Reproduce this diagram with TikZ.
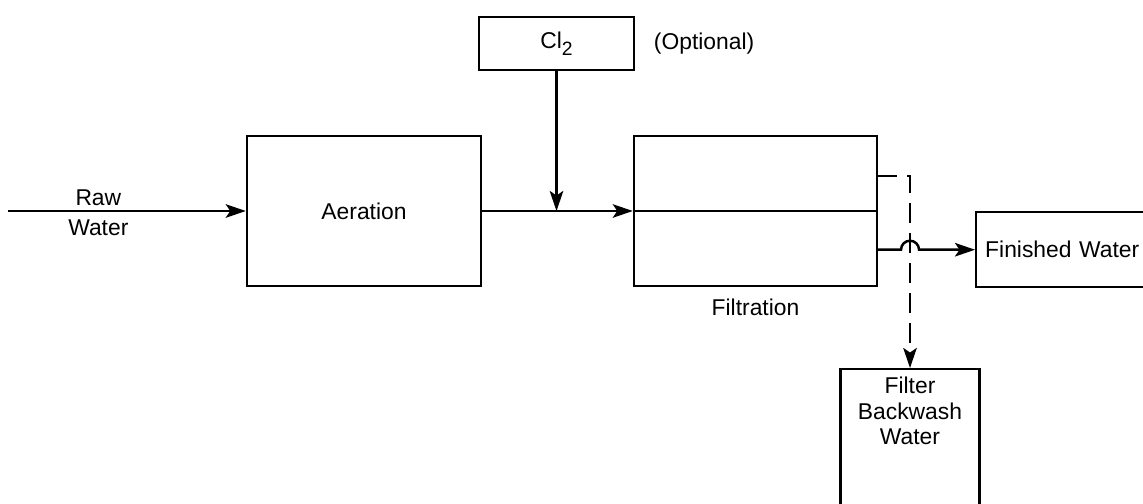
\documentclass[tikz,border=0pt]{standalone}
\usepackage{fontspec}
\setmainfont{Liberation Sans}
\usetikzlibrary{arrows.meta, positioning}

\tikzset{
    unit/.style={draw, line width=1.4pt, rectangle, inner sep=0pt},
    flow/.style={line width=1.4pt, -{Stealth[length=0.4cm, width=0.27cm, inset=0.09cm]}},
    wash/.style={flow, dash pattern=on 0.4cm off 0.2cm},
}

\begin{document}
\begin{tikzpicture}[font=\fontsize{13}{14.5}\selectfont]
    \useasboundingbox (0,0) rectangle (22.86,-10.08);

    % treatment units
    \node[unit, minimum width=4.68cm, minimum height=3cm] (aeration) at (7.28,-4.22) {Aeration};
    \node[unit, minimum width=4.86cm, minimum height=3cm] (filtration) at (15.11,-4.22) {};
    \node[below=0.12cm of filtration] (filtlabel) {Filtration};
    \node[unit, minimum width=3.1cm, minimum height=1.06cm] (cl2) at (11.13,-0.87)
        {Cl\raisebox{-0.55ex}{\fontsize{11}{11}\selectfont 2}};
    \node[right=0.25cm of cl2] (optional) {(Optional)};

    % outlets
    \node[unit, anchor=north west, minimum width=3.8cm, minimum height=1.5cm,
          text width=3.5cm, align=left, inner xsep=0.18cm] (finished) at (19.5,-4.22) {Finished Water};
    \node[unit, anchor=north, minimum width=2.78cm, minimum height=3.2cm] (backwash) at (18.2,-7.36) {};
    \node[align=center, anchor=north] (washlabel) at (18.2,-7.42) {Filter\\Backwash\\Water};

    % raw water in
    \coordinate (inlet) at (0.16,-4.22);
    \draw[flow] (inlet) -- (aeration.west)
        node[pos=0.38, above=-0.03cm] (rawlabel) {Raw}
        node[pos=0.38, below=0.03cm] (waterlabel) {Water};

    \draw[flow] (aeration.east) -- (filtration.west);
    \draw[flow] (cl2.south) -- (cl2.south |- aeration.east);
    \draw[line width=1.4pt] (filtration.west) -- (filtration.east);

    % finished water, hopping over the backwash line
    \draw[flow] (filtration.east |- finished.west) -- ([xshift=-0.18cm]backwash.north |- finished.west)
        arc[start angle=180, end angle=0, radius=0.18cm] -- (finished.west);

    % backwash
    \coordinate (washout) at (17.54,-3.52);
    \draw[wash] (washout) -| (backwash.north);
\end{tikzpicture}
\end{document}
